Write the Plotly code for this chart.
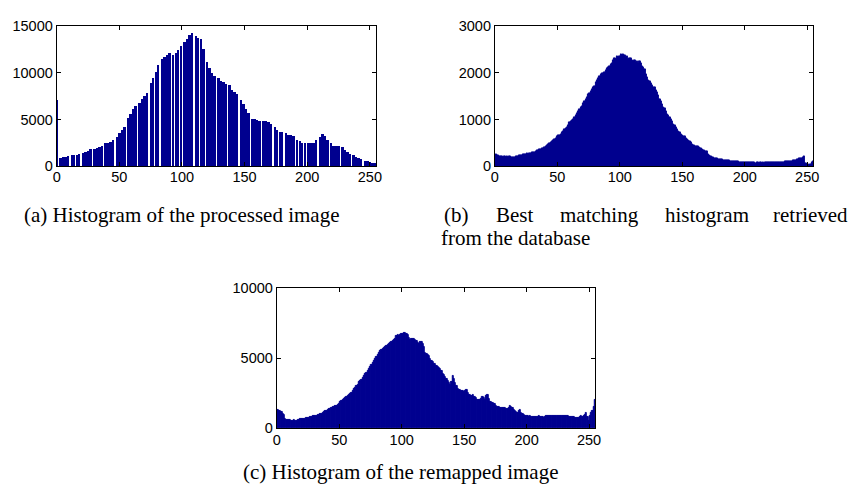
import plotly.graph_objects as go

# ---------------- data ----------------
levels = list(range(256))

# (a) processed image: comb-like histogram (only these grey levels are occupied)
bins_a = [0, 3, 5, 7, 9, 12, 14, 16, 18, 21, 23, 25, 27, 30, 32, 34, 36, 39, 41, 43,
          45, 48, 50, 52, 54, 57, 59, 61, 63, 66, 68, 70, 72, 75, 77, 79, 81, 84, 86, 88,
          90, 93, 95, 97, 99, 102, 104, 106, 108, 111, 113, 115, 117, 120, 122, 124, 126,
          129, 131, 133, 135, 138, 140, 142, 144, 147, 149, 151, 153, 156, 158, 160, 162,
          165, 167, 169, 171, 174, 176, 178, 180, 183, 185, 187, 189, 192, 194, 196, 198,
          201, 203, 205, 207, 210, 212, 214, 216, 219, 221, 223, 225, 228, 230, 232, 234,
          237, 239, 241, 243, 246, 248, 250, 252, 254]
counts_a = [7000, 860, 900, 950, 1040, 1100, 1130, 1180, 1250, 1330, 1480, 1600, 1760, 1840,
            1900, 2010, 2150, 2400, 2480, 2540, 2750, 3100, 3500, 3800, 4200, 5150, 5500,
            6100, 6450, 6700, 7200, 7450, 7850, 8900, 9400, 10050, 10800, 11450, 11700,
            11900, 12050, 11850, 12100, 12450, 12800, 13300, 13600, 14050, 14250, 13950,
            13700, 13600, 12500, 11100, 10500, 9900, 9600, 9450, 9100, 8950, 8800, 8650,
            8150, 7900, 7700, 7100, 6600, 6050, 5650, 5050, 4980, 4950, 4800, 4780, 4750,
            4650, 4430, 4170, 3820, 3650, 3560, 3500, 3300, 3250, 3180, 2750, 2600, 2480,
            2420, 2400, 2380, 2450, 2700, 3050, 3360, 3200, 2780, 2380, 2160, 2100, 2060,
            1970, 1680, 1500, 1300, 1120, 980, 850, 700, 530, 460, 350, 300, 270]

# (b) best matching histogram from the database
counts_b = [230, 240, 235, 230, 215, 200, 205, 195, 200, 190, 198, 192, 200, 195, 188, 196,
            190, 205, 198, 215, 220, 228, 225, 240, 245, 250, 262, 258, 275, 282, 290, 300,
            298, 318, 335, 340, 352, 362, 370, 385, 398, 420, 445, 470, 490, 505, 520, 545,
            565, 590, 630, 655, 668, 690, 715, 750, 785, 805, 840, 880, 940, 960, 985, 1000,
            1040, 1090, 1125, 1170, 1220, 1250, 1290, 1350, 1390, 1440, 1480, 1530, 1565,
            1600, 1640, 1680, 1720, 1790, 1830, 1880, 1930, 1970, 1990, 2000, 2010, 2050,
            2090, 2110, 2140, 2180, 2200, 2260, 2310, 2290, 2350, 2330, 2360, 2400, 2380,
            2390, 2370, 2340, 2345, 2300, 2310, 2320, 2280, 2250, 2270, 2230, 2250, 2215,
            2240, 2200, 2150, 2110, 2070, 1975, 1900, 1840, 1810, 1780, 1740, 1700, 1680,
            1630, 1580, 1510, 1440, 1390, 1330, 1260, 1230, 1170, 1120, 1080, 1040, 1000,
            950, 905, 870, 820, 780, 750, 720, 690, 660, 640, 630, 600, 580, 545, 520, 505,
            470, 450, 440, 430, 420, 415, 405, 380, 360, 345, 335, 320, 310, 260, 225, 210,
            195, 180, 172, 165, 160, 150, 145, 140, 137, 130, 128, 120, 118, 115, 112, 110,
            105, 102, 98, 95, 92, 90, 88, 85, 83, 80, 78, 80, 75, 72, 74, 70, 72, 68, 70, 66,
            68, 70, 66, 68, 65, 70, 67, 72, 69, 70, 72, 68, 74, 70, 75, 72, 78, 80, 76, 83,
            85, 82, 88, 90, 92, 96, 100, 104, 110, 115, 120, 130, 137, 145, 155, 165, 172,
            190, 210, 60, 35, 25, 20, 45, 70, 90]

# (c) remapped image
counts_c = [1300, 1283, 1250, 1214, 1180, 1050, 960, 640, 590, 570, 560, 575, 555, 540, 560,
            530, 524, 560, 600, 641, 650, 660, 640, 690, 710, 700, 740, 780, 800, 860, 870,
            900, 880, 940, 980, 990, 1030, 1080, 1150, 1200, 1260, 1300, 1350, 1400, 1420,
            1490, 1520, 1580, 1620, 1680, 1760, 1850, 1950, 2020, 2100, 2130, 2200, 2300,
            2366, 2450, 2540, 2660, 2800, 2870, 2980, 3120, 3280, 3360, 3450, 3600, 3745,
            3850, 3950, 4100, 4250, 4380, 4500, 4650, 4780, 4950, 5100, 5250, 5400, 5500,
            5560, 5640, 5700, 5780, 5850, 5950, 6040, 6100, 6150, 6230, 6280, 6400, 6550,
            6620, 6600, 6650, 6690, 6720, 6780, 6760, 6700, 6620, 6450, 6320, 6380, 6400,
            6390, 6320, 6200, 6100, 6040, 6120, 6160, 6000, 5814, 5352, 5300, 5200, 5124,
            4950, 4780, 4700, 4600, 4552, 4450, 4380, 4300, 4249, 4050, 3862, 3800, 3650,
            3517, 3350, 3200, 3104, 3300, 3745, 3500, 3240, 3000, 2828, 2750, 2700, 2660,
            2641, 2600, 2680, 2700, 2550, 2400, 2366, 2300, 2400, 2250, 2200, 2138, 2050,
            2020, 2020, 2100, 2250, 2150, 2050, 2300, 2366, 2100, 1904, 1850, 1800, 1724,
            1700, 1600, 1490, 1500, 1470, 1445, 1430, 1460, 1420, 1380, 1400, 1450, 1560,
            1500, 1420, 1330, 1250, 1150, 1100, 1200, 1330, 1100, 986, 920, 900, 870, 850,
            830, 860, 820, 800, 840, 790, 810, 800, 850, 780, 820, 800, 760, 840, 870, 850,
            900, 860, 880, 850, 870, 900, 880, 870, 910, 860, 880, 870, 900, 880, 850, 870,
            820, 800, 820, 780, 800, 760, 740, 720, 710, 800, 850, 820, 870, 950, 1100, 800,
            524, 900, 1100, 1214, 1500, 2020]

x_ticks = [0, 50, 100, 150, 200, 250]
y_ticks_a = [0, 5000, 10000, 15000]
y_ticks_b = [0, 1000, 2000, 3000]
y_ticks_c = [0, 5000, 10000]

captions = {
    "a": "(a) Histogram of the processed image",
    "b_words": ["(b)", "Best", "matching", "histogram", "retrieved"],
    "b2": "from the database",
    "c": "(c) Histogram of the remapped image",
}

# ---------------- figure ----------------
W, H = 857, 494
BAR = "#00008F"
fig = go.Figure()

fig.add_trace(go.Bar(x=bins_a, y=counts_a, width=1.5, marker=dict(color=BAR, line=dict(width=0)),
                     xaxis="x", yaxis="y", showlegend=False))
fig.add_trace(go.Bar(x=levels, y=counts_b, width=1.0,
                     marker=dict(color=BAR, line=dict(width=1, color=BAR)),
                     xaxis="x2", yaxis="y2", showlegend=False))
fig.add_trace(go.Bar(x=levels, y=counts_c, width=1.0,
                     marker=dict(color=BAR, line=dict(width=1, color=BAR)),
                     xaxis="x3", yaxis="y3", showlegend=False))

def px_x(a, b):
    return [a / W, b / W]

def px_y(top, bottom):
    return [(H - bottom) / H, (H - top) / H]

tickfont = dict(family="Liberation Sans, Arial, sans-serif", size=14.5, color="black")
common_x = dict(range=[0, 255], tickvals=x_ticks, ticktext=[str(v) for v in x_ticks],
                ticks="inside", ticklen=4, tickcolor="black", ticklabelstandoff=-2,
                showline=True, linecolor="black", linewidth=1, mirror="ticks",
                showgrid=False, zeroline=False, tickfont=tickfont, fixedrange=True)
common_y = dict(ticks="inside", ticklen=4, tickcolor="black",
                showline=True, linecolor="black", linewidth=1, mirror="ticks",
                showgrid=False, zeroline=False, tickfont=tickfont, fixedrange=True)

def yax(dom, anchor, top, ticks):
    return dict(domain=dom, anchor=anchor, range=[0, top], tickvals=ticks,
                ticktext=[str(v) for v in ticks], **common_y)

fig.update_layout(
    width=W, height=H, margin=dict(l=0, r=0, t=0, b=0),
    paper_bgcolor="white", plot_bgcolor="white", bargap=0,
    xaxis=dict(domain=px_x(53.3, 376.5), anchor="y", **common_x),
    yaxis=yax(px_y(19, 163.3), "x", 15000, y_ticks_a),
    xaxis2=dict(domain=px_x(496.7, 819), anchor="y2", **common_x),
    yaxis2=yax(px_y(19, 163.3), "x2", 3000, y_ticks_b),
    xaxis3=dict(domain=px_x(276, 598.3), anchor="y3", **common_x),
    yaxis3=yax(px_y(289.3, 434.3), "x3", 10000, y_ticks_c),
)

capfont = dict(family="Liberation Serif, Times New Roman, serif", size=21, color="black")

def cap(text, x, y, anchor="left"):
    fig.add_annotation(text=text, x=x / W, y=1 - y / H, xref="paper", yref="paper",
                       xanchor=anchor, yanchor="middle", showarrow=False, font=capfont)

cap(captions["a"], 180, 214, "center")
b_pos = [443, 496, 561, 667, 856]
for i, w in enumerate(captions["b_words"]):
    cap(w, b_pos[i], 214, "right" if i == len(b_pos) - 1 else "left")
cap(captions["b2"], 440, 238, "left")
cap(captions["c"], 401, 480, "center")

fig.write_html("out.html")
